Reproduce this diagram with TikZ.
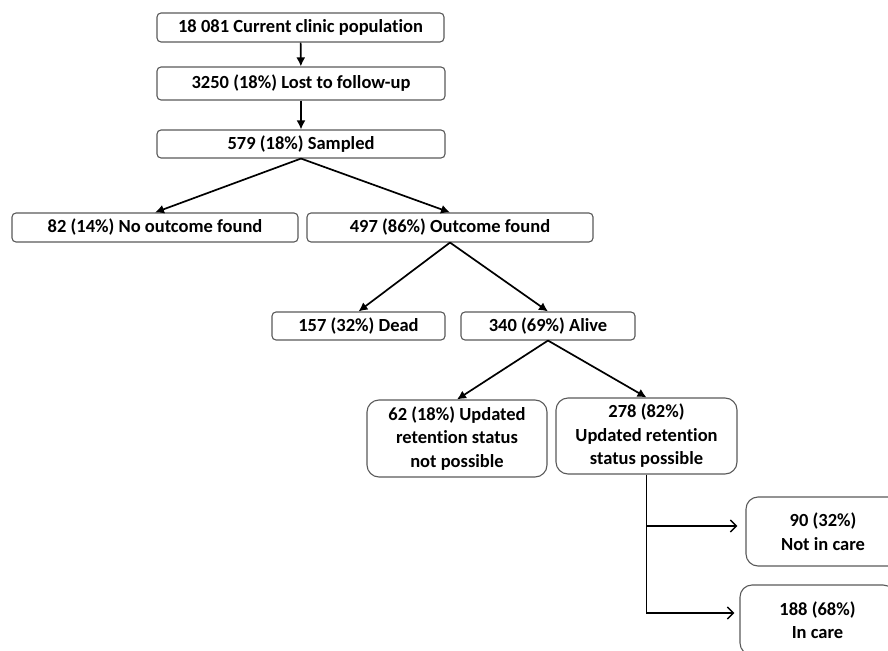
\documentclass[tikz,border=0pt]{standalone}
\usepackage{fontspec}
\setmainfont{Carlito}[Ligatures=NoCommon]
\usetikzlibrary{positioning, arrows.meta}

\begin{document}
\begin{tikzpicture}[x=1pt, y=-1pt,
	box/.style={draw=black!65, line width=1.1pt, rounded corners=4pt, inner sep=0pt,
		align=center, font=\fontsize{18.5}{23.5}\selectfont\bfseries},
	tallbox/.style={box, rounded corners=12pt},
	flow/.style={-{Latex[length=9pt, width=9pt]}, line width=1.7pt},
	side/.style={-{Straight Barb[length=6pt, width=12pt]}, line width=1.5pt}]
	\clip (0,0) rectangle (888,650);
	\node (clinic) [box, minimum width=287pt, minimum height=29pt] at (300.5,27.5) {18 081 Current clinic population};
	\node (ltfu) [box, minimum width=288pt, minimum height=33pt] at (301,83.5) {3250 (18\%) Lost to follow-up};
	\node (sampled) [box, minimum width=288pt, minimum height=28pt] at (301,144) {579 (18\%) Sampled};
	\node (nooutcome) [box, minimum width=286pt, minimum height=29pt] at (155,227.5) {82 (14\%) No outcome found};
	\node (outcome) [box, minimum width=286pt, minimum height=29pt] at (450,227.5) {497 (86\%) Outcome found};
	\node (dead) [box, minimum width=173pt, minimum height=28pt] at (358.5,326) {157 (32\%) Dead};
	\node (alive) [box, minimum width=174pt, minimum height=28pt] at (548,326) {340 (69\%) Alive};
	\node (notpossible) [tallbox, minimum width=180pt, minimum height=77pt] at (457,438.5) {62 (18\%) Updated\\retention status\\not possible};
	\node (possible) [tallbox, minimum width=181pt, minimum height=76pt] at (646.5,436) {278 (82\%)\\Updated retention\\status possible};
	\node (notincare) [tallbox, minimum width=154pt, minimum height=69pt] at (823,531.5) {90 (32\%)\\Not in care};
	\node (incare) [tallbox, minimum width=155pt, minimum height=70pt] at (817.5,620) {188 (68\%)\\In care};
	\path[flow]
		(clinic) edge (ltfu)
		(ltfu) edge (sampled)
		(sampled.south) edge (nooutcome.north)
		(sampled.south) edge (outcome.north)
		(outcome.south) edge (dead.north)
		(outcome.south) edge (alive.north)
		(alive.south) edge (notpossible.north)
		(alive.south) edge (possible.north)
	;
	\draw[side, shorten >=8pt] (possible.south) |- ([yshift=5.5pt]notincare.west);
	\draw[side, shorten >=5pt] (possible.south) |- ([yshift=7pt]incare.west);
\end{tikzpicture}
\end{document}
